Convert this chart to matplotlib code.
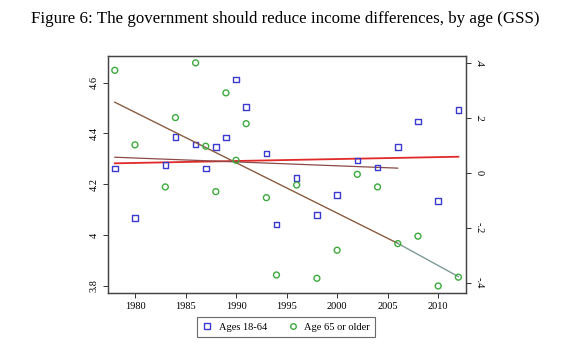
import matplotlib
matplotlib.use("Agg")
import matplotlib.pyplot as plt
from matplotlib.lines import Line2D

years = [1978, 1980, 1983, 1984, 1986, 1987, 1988, 1989, 1990, 1991, 1993,
         1994, 1996, 1998, 2000, 2002, 2004, 2006, 2008, 2010, 2012]
ages_18_64 = [4.262, 4.067, 4.275, 4.386, 4.357, 4.262, 4.346, 4.383, 4.612, 4.504, 4.320,
              4.041, 4.225, 4.078, 4.157, 4.294, 4.265, 4.346, 4.446, 4.133, 4.493]
age_65_plus = [0.372, 0.101, -0.052, 0.200, 0.399, 0.096, -0.069, 0.290, 0.045, 0.178, -0.091,
               -0.372, -0.045, -0.384, -0.282, -0.006, -0.052, -0.258, -0.231, -0.412, -0.380]

fit_full_x = [1978, 2012]
fit_full_y = [4.282, 4.308]
fit_early_x = [1978, 2006]
fit_early_y = [4.306, 4.263]
fit65_early_x = [1978, 2006]
fit65_early_y = [0.256, -0.257]
fit65_late_x = [2006, 2012]
fit65_late_y = [-0.257, -0.378]

left_ticks = [3.8, 4.0, 4.2, 4.4, 4.6]
left_labels = ["3.8", "4", "4.2", "4.4", "4.6"]
right_ticks = [-0.4, -0.2, 0.0, 0.2, 0.4]
right_labels = ["-.4", "-.2", "0", ".2", ".4"]
x_ticks = [1980, 1985, 1990, 1995, 2000, 2005, 2010]

serif = ["Liberation Serif", "DejaVu Serif"]
plt.rcParams["font.family"] = serif

fig = plt.figure(figsize=(5.73, 3.53), dpi=100)
ax = fig.add_axes([0.1885, 0.17, 0.624, 0.6714])
ax2 = ax.twinx()

blue = "#3a3ad0"
green = "#3caa3c"

ax.scatter(years, ages_18_64, marker="s", s=16, facecolors="none", edgecolors=blue, linewidths=1.0, zorder=3)
ax.plot(fit_full_x, fit_full_y, color="#e02a2a", lw=1.3, zorder=2)
ax.plot(fit_early_x, fit_early_y, color="#8a4a48", lw=0.9, zorder=2)

ax2.scatter(years, age_65_plus, marker="o", s=18, facecolors="none", edgecolors=green, linewidths=1.0, zorder=3)
ax2.plot(fit65_early_x, fit65_early_y, color="#8a5c40", lw=1.0, zorder=2)
ax2.plot(fit65_late_x, fit65_late_y, color="#7f9a9a", lw=1.0, zorder=2)

ax.set_xlim(1977.33, 2012.71)
ax.set_ylim(3.771, 4.705)
ax2.set_ylim(-0.4375, 0.424)

ax.set_xticks(x_ticks)
ax.set_xticklabels([str(x) for x in x_ticks], fontsize=7.5)
ax.set_yticks(left_ticks)
ax.set_yticklabels(left_labels, fontsize=7.5, rotation=90, va="center")
ax2.set_yticks(right_ticks)
ax2.set_yticklabels(right_labels, fontsize=7.5, rotation=270, va="center")

for a in (ax, ax2):
    a.tick_params(direction="out", length=3.5, width=0.7, color="#333333", pad=3)
    for s in a.spines.values():
        s.set_color("#444444")
        s.set_linewidth(0.9)

fig.text(0.497, 0.947, "Figure 6: The government should reduce income differences, by age (GSS)",
         ha="center", va="center", fontsize=12.2)

handles = [
    Line2D([], [], marker="s", markersize=4, markerfacecolor="none", markeredgecolor=blue, linestyle="none"),
    Line2D([], [], marker="o", markersize=4, markerfacecolor="none", markeredgecolor=green, linestyle="none"),
]
leg = fig.legend(handles, ["Ages 18-64", "Age 65 or older"], loc="center", bbox_to_anchor=(0.499, 0.074),
                 ncol=2, fontsize=7.5, frameon=True, fancybox=False, handlelength=1.0,
                 handletextpad=0.6, columnspacing=2.0, borderpad=0.5)
leg.get_frame().set_edgecolor("#444444")
leg.get_frame().set_linewidth(0.8)

fig.savefig("out.png", dpi=100)
